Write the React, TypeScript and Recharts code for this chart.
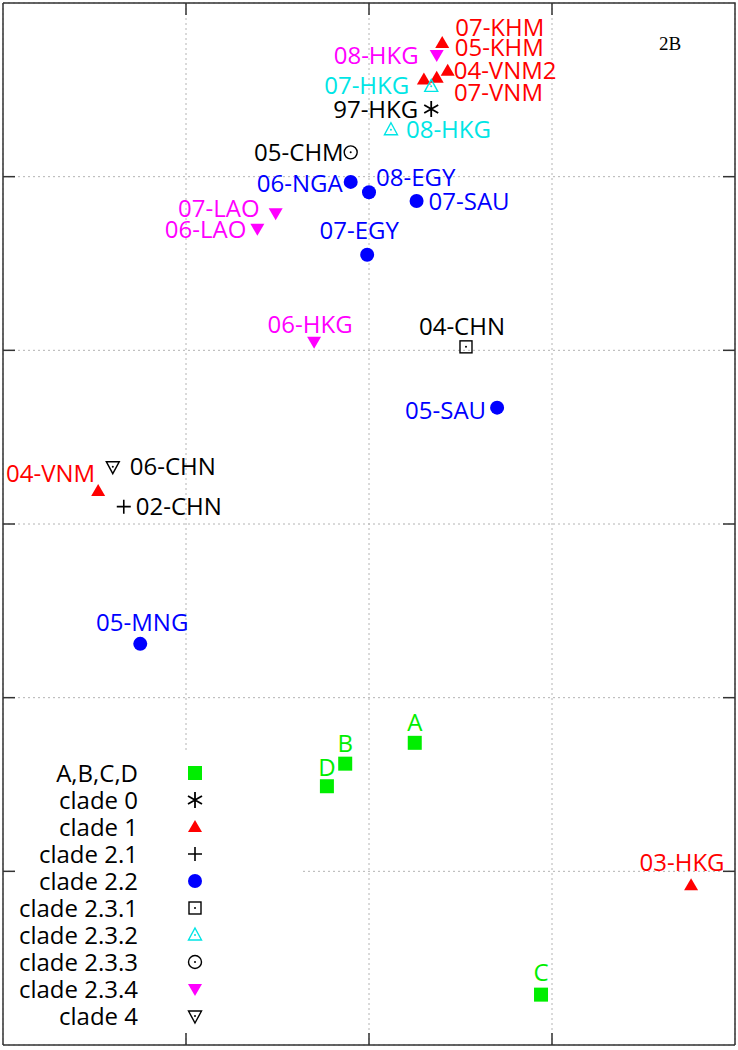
import { ScatterChart, Scatter, XAxis, YAxis, CartesianGrid, Legend } from 'recharts';

type Pt = { x: number; y: number; name: string };

// antigenic map coordinates (grid units)
const abcd: Pt[] = [
  { x: 2.25, y: 1.74, name: 'A' },
  { x: 1.87, y: 1.62, name: 'B' },
  { x: 2.94, y: 0.29, name: 'C' },
  { x: 1.77, y: 1.49, name: 'D' },
];
const clade0: Pt[] = [{ x: 2.34, y: 5.39, name: '97-HKG' }];
const clade1: Pt[] = [
  { x: 2.4, y: 5.77, name: '07-KHM' },
  { x: 2.43, y: 5.61, name: '05-KHM' },
  { x: 2.37, y: 5.57, name: '04-VNM2' },
  { x: 2.3, y: 5.56, name: '07-VNM' },
  { x: 0.52, y: 3.19, name: '04-VNM' },
  { x: 3.76, y: 0.92, name: '03-HKG' },
];
const clade21: Pt[] = [{ x: 0.66, y: 3.1, name: '02-CHN' }];
const clade22: Pt[] = [
  { x: 1.9, y: 4.97, name: '06-NGA' },
  { x: 2.0, y: 4.91, name: '08-EGY' },
  { x: 2.26, y: 4.86, name: '07-SAU' },
  { x: 1.99, y: 4.55, name: '07-EGY' },
  { x: 2.7, y: 3.67, name: '05-SAU' },
  { x: 0.75, y: 2.31, name: '05-MNG' },
];
const clade231: Pt[] = [{ x: 2.53, y: 4.02, name: '04-CHN' }];
const clade232: Pt[] = [
  { x: 2.34, y: 5.52, name: '07-HKG' },
  { x: 2.12, y: 5.27, name: '08-HKG' },
];
const clade233: Pt[] = [{ x: 1.9, y: 5.14, name: '05-CHM' }];
const clade234: Pt[] = [
  { x: 2.37, y: 5.7, name: '08-HKG' },
  { x: 1.49, y: 4.79, name: '07-LAO' },
  { x: 1.39, y: 4.7, name: '06-LAO' },
  { x: 1.7, y: 4.05, name: '06-HKG' },
];
const clade4: Pt[] = [{ x: 0.6, y: 3.33, name: '06-CHN' }];

const xDomain = [0, 4];
const yDomain = [0, 6];
const xTicks = [1, 2, 3];
const yTicks = [1, 2, 3, 4, 5];

type Kind = 'square' | 'star' | 'tri' | 'plus' | 'circle' | 'squareOpen' | 'triOpen' | 'circleOpen' | 'triDown' | 'triDownOpen';

const series: { name: string; data: Pt[]; kind: Kind; color: string }[] = [
  { name: 'A,B,C,D', data: abcd, kind: 'square', color: '#00ee00' },
  { name: 'clade 0', data: clade0, kind: 'star', color: '#000000' },
  { name: 'clade 1', data: clade1, kind: 'tri', color: '#ff0000' },
  { name: 'clade 2.1', data: clade21, kind: 'plus', color: '#000000' },
  { name: 'clade 2.2', data: clade22, kind: 'circle', color: '#0000ff' },
  { name: 'clade 2.3.1', data: clade231, kind: 'squareOpen', color: '#000000' },
  { name: 'clade 2.3.2', data: clade232, kind: 'triOpen', color: '#00e5e5' },
  { name: 'clade 2.3.3', data: clade233, kind: 'circleOpen', color: '#000000' },
  { name: 'clade 2.3.4', data: clade234, kind: 'triDown', color: '#ff00ff' },
  { name: 'clade 4', data: clade4, kind: 'triDownOpen', color: '#000000' },
];

// label placement relative to the marker: [dx, dy, anchor]
const labelPos: Record<string, [number, number, 'start' | 'middle' | 'end']> = {
  'A,B,C,D|A': [0, -20, 'middle'],
  'A,B,C,D|B': [0, -20, 'middle'],
  'A,B,C,D|C': [0, -22, 'middle'],
  'A,B,C,D|D': [0, -19, 'middle'],
  'clade 0|97-HKG': [-13, 0, 'end'],
  'clade 1|07-KHM': [13, -16, 'start'],
  'clade 1|05-KHM': [7, -23, 'start'],
  'clade 1|04-VNM2': [17, -7, 'start'],
  'clade 1|07-VNM': [30, 13, 'start'],
  'clade 1|04-VNM': [-3, -18, 'end'],
  'clade 1|03-HKG': [-9, -23, 'middle'],
  'clade 2.1|02-CHN': [12, 0, 'start'],
  'clade 2.2|06-NGA': [-8, 1, 'end'],
  'clade 2.2|08-EGY': [7, -15, 'start'],
  'clade 2.2|07-SAU': [12, 0, 'start'],
  'clade 2.2|07-EGY': [-8, -24, 'middle'],
  'clade 2.2|05-SAU': [-11, 3, 'end'],
  'clade 2.2|05-MNG': [2, -21, 'middle'],
  'clade 2.3.1|04-CHN': [-4, -21, 'middle'],
  'clade 2.3.2|07-HKG': [-22, -1, 'end'],
  'clade 2.3.2|08-HKG': [15, 0, 'start'],
  'clade 2.3.3|05-CHM': [-7, 0, 'end'],
  'clade 2.3.4|08-HKG': [-18, 0, 'end'],
  'clade 2.3.4|07-LAO': [-16, -5, 'end'],
  'clade 2.3.4|06-LAO': [-11, 1, 'end'],
  'clade 2.3.4|06-HKG': [-4, -17, 'middle'],
  'clade 4|06-CHN': [17, 0, 'start'],
};

const FONT = '"Open Sans", "Noto Sans", sans-serif';
const FRAME = '#333';
const W = 738;
const H = 1050;
const M = { top: 3, right: 3, bottom: 5, left: 3 };
const TICK = 12;

// plot area edges
const left = M.left;
const right = W - M.right;
const top = M.top;
const bottom = H - M.bottom;
const px = (v: number) => left + ((v - xDomain[0]) / (xDomain[1] - xDomain[0])) * (right - left);
const py = (v: number) => bottom - ((v - yDomain[0]) / (yDomain[1] - yDomain[0])) * (bottom - top);

function Marker({ kind, cx, cy, color }: { kind: Kind; cx: number; cy: number; color: string }) {
  const dot = <circle cx={cx} cy={cy} r={1} fill={color} />;
  switch (kind) {
    case 'square':
      return <rect x={cx - 7} y={cy - 7} width={14} height={14} fill={color} />;
    case 'circle':
      return <circle cx={cx} cy={cy} r={7} fill={color} />;
    case 'tri':
      return <path d={`M${cx},${cy - 7}L${cx + 7},${cy + 5}L${cx - 7},${cy + 5}Z`} fill={color} />;
    case 'triDown':
      return <path d={`M${cx},${cy + 7}L${cx + 7},${cy - 5}L${cx - 7},${cy - 5}Z`} fill={color} />;
    case 'triOpen':
      return (
        <g>
          <path d={`M${cx},${cy - 7}L${cx + 6.5},${cy + 5}L${cx - 6.5},${cy + 5}Z`} fill="none" stroke={color} strokeWidth={1.4} />
          {dot}
        </g>
      );
    case 'triDownOpen':
      return (
        <g>
          <path d={`M${cx},${cy + 7}L${cx + 6.5},${cy - 5}L${cx - 6.5},${cy - 5}Z`} fill="none" stroke={color} strokeWidth={1.4} />
          {dot}
        </g>
      );
    case 'squareOpen':
      return (
        <g>
          <rect x={cx - 6} y={cy - 6} width={12} height={12} fill="none" stroke={color} strokeWidth={1.4} />
          {dot}
        </g>
      );
    case 'circleOpen':
      return (
        <g>
          <circle cx={cx} cy={cy} r={6.5} fill="none" stroke={color} strokeWidth={1.4} />
          {dot}
        </g>
      );
    case 'plus':
      return <path d={`M${cx - 7},${cy}H${cx + 7}M${cx},${cy - 7}V${cy + 7}`} stroke={color} strokeWidth={1.6} />;
    case 'star':
      return (
        <path
          d={`M${cx},${cy - 8}V${cy + 8}M${cx - 7},${cy - 4}L${cx + 7},${cy + 4}M${cx - 7},${cy + 4}L${cx + 7},${cy - 4}`}
          stroke={color}
          strokeWidth={1.8}
        />
      );
  }
  return null;
}

function makeShape(s: { name: string; kind: Kind; color: string }) {
  return (props: any) => {
    const { cx, cy, payload } = props;
    const pos = labelPos[`${s.name}|${payload.name}`] || [10, 0, 'start'];
    return (
      <g>
        <Marker kind={s.kind} cx={cx} cy={cy} color={s.color} />
        <text
          x={cx + pos[0]}
          y={cy + pos[1]}
          dy="0.36em"
          textAnchor={pos[2]}
          fill={s.color}
          fontFamily={FONT}
          fontSize={24}
        >
          {payload.name}
        </text>
      </g>
    );
  };
}

const renderLegend = (props: any) => {
  const payload = props.payload || [];
  return (
    <svg width={284} height={282}>
      {payload.map((entry: any, i: number) => {
        const s = series.find((d) => d.name === entry.value);
        if (!s) return null;
        const cy = 23 + i * 27;
        return (
          <g key={s.name}>
            <text x={122} y={cy} dy="0.36em" textAnchor="end" fill="#000" fontFamily={FONT} fontSize={24}>
              {s.name}
            </text>
            <Marker kind={s.kind} cx={179} cy={cy} color={s.color} />
          </g>
        );
      })}
    </svg>
  );
};

const noTick = () => <g />;

export default function App() {
  return (
    <div style={{ position: 'absolute', left: 0, top: 0, width: W, height: H, background: '#fff' }}>
      <ScatterChart width={W} height={H} margin={M}>
        <CartesianGrid stroke="#b4b4b4" strokeDasharray="2 3" />
        <XAxis
          type="number"
          dataKey="x"
          domain={xDomain}
          ticks={xTicks}
          tick={noTick}
          mirror
          tickSize={TICK}
          stroke={FRAME}
          strokeWidth={1.5}
        />
        <YAxis
          type="number"
          dataKey="y"
          domain={yDomain}
          ticks={yTicks}
          tick={noTick}
          mirror
          tickSize={TICK}
          stroke={FRAME}
          strokeWidth={1.5}
        />
        <Legend
          layout="vertical"
          align="center"
          verticalAlign="middle"
          content={renderLegend}
          wrapperStyle={{ left: 16, top: 750, width: 284, height: 282, background: '#fff' }}
        />
        {series.map((s) => (
          <Scatter
            key={s.name}
            name={s.name}
            data={s.data}
            fill={s.color}
            shape={makeShape(s)}
            isAnimationActive={false}
          />
        ))}
      </ScatterChart>
      {/* top and right border with inward ticks, mirroring the bottom/left axes */}
      <svg
        width={W}
        height={H}
        style={{ position: 'absolute', left: 0, top: 0, pointerEvents: 'none' }}
      >
        <path d={`M${left},${top}H${right}V${bottom}`} fill="none" stroke={FRAME} strokeWidth={1.5} />
        {xTicks.map((t) => (
          <line key={`tx${t}`} x1={px(t)} y1={top} x2={px(t)} y2={top + TICK} stroke={FRAME} strokeWidth={1.5} />
        ))}
        {yTicks.map((t) => (
          <line key={`ty${t}`} x1={right - TICK} y1={py(t)} x2={right} y2={py(t)} stroke={FRAME} strokeWidth={1.5} />
        ))}
        <text x={659} y={50} fontFamily='"Liberation Serif", serif' fontSize={19} fill="#000">
          2B
        </text>
      </svg>
    </div>
  );
}
